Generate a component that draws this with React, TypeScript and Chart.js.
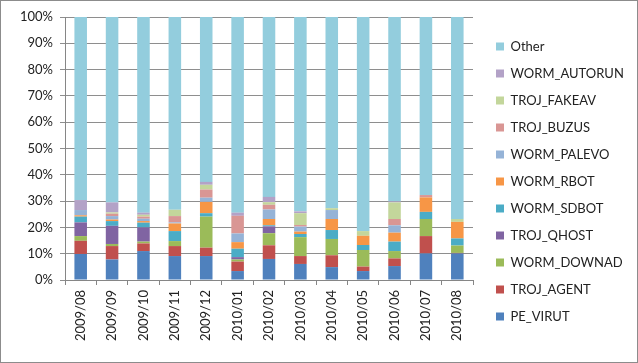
import React, { useEffect, useRef } from "react";
import { Chart, registerables } from "chart.js";

Chart.register(...registerables);

const categories = ["2009/08","2009/09","2009/10","2009/11","2009/12","2010/01","2010/02","2010/03","2010/04","2010/05","2010/06","2010/07","2010/08"];

const peVirut     = [9.9, 7.8, 11.0, 9.1, 9.1, 3.4, 8.0, 6.1, 4.9, 3.4, 5.3, 10.1, 10.1];
const trojAgent   = [5.0, 5.1, 2.9, 3.8, 3.2, 3.6, 5.2, 3.0, 4.5, 1.7, 2.9, 6.6, 0.2];
const wormDownad  = [1.8, 0.8, 0.7, 1.9, 11.8, 0.8, 4.6, 7.2, 6.2, 6.3, 2.8, 6.5, 2.8];
const trojQhost   = [5.2, 6.9, 5.4, 0.0, 0.0, 0.9, 2.6, 0.0, 0.0, 0.0, 0.0, 0.0, 0.0];
const wormSdbot   = [2.2, 1.8, 1.8, 3.8, 1.3, 3.2, 0.4, 1.2, 3.4, 1.9, 3.6, 2.7, 2.7];
const wormRbot    = [0.5, 0.6, 0.6, 2.9, 4.3, 2.5, 2.4, 0.9, 4.2, 3.5, 3.4, 5.5, 6.3];
const wormPalevo  = [2.0, 1.3, 0.9, 0.4, 1.6, 3.3, 3.6, 1.9, 3.4, 0.0, 2.8, 0.0, 0.0];
const trojBuzus   = [0.0, 0.9, 0.8, 2.4, 3.1, 6.7, 1.8, 0.6, 0.0, 0.0, 2.4, 0.9, 0.0];
const trojFakeav  = [0.0, 0.5, 0.7, 2.4, 1.8, 0.0, 1.0, 4.5, 0.7, 1.8, 6.3, 0.0, 1.1];
const wormAutorun = [3.8, 3.8, 0.8, 0.0, 1.1, 1.2, 2.0, 0.7, 0.0, 0.0, 0.4, 0.0, 0.0];
const other       = [69.6, 70.5, 74.4, 73.3, 62.7, 74.4, 68.4, 73.9, 72.7, 81.4, 70.1, 67.7, 76.8];

const yTicks = [0, 10, 20, 30, 40, 50, 60, 70, 80, 90, 100];

const seriesNames = ["PE_VIRUT","TROJ_AGENT","WORM_DOWNAD","TROJ_QHOST","WORM_SDBOT","WORM_RBOT","WORM_PALEVO","TROJ_BUZUS","TROJ_FAKEAV","WORM_AUTORUN","Other"];
const seriesData = [peVirut, trojAgent, wormDownad, trojQhost, wormSdbot, wormRbot, wormPalevo, trojBuzus, trojFakeav, wormAutorun, other];
const seriesColors = ["#4F81BD","#C0504D","#9BBB59","#8064A2","#4BACC6","#F79646","#95B3D7","#D99694","#C3D69B","#B3A2C7","#93CDDD"];

const LEGEND_WIDTH = 164;
const LEGEND_SHIFT = 9;

const legendFitPlugin = {
  id: "legendFit",
  beforeLayout(chart: any) {
    const lg = chart.legend;
    if (lg && !lg._fitPatched) {
      const orig = lg.fit;
      lg.fit = function () {
        orig.call(this);
        this.width = LEGEND_WIDTH;
      };
      lg._fitPatched = true;
    }
  },
  afterLayout(chart: any) {
    const lg = chart.legend;
    if (lg) {
      lg.left += LEGEND_SHIFT;
      lg.right += LEGEND_SHIFT;
    }
  },
};

export default function App() {
  const ref = useRef<HTMLCanvasElement | null>(null);
  useEffect(() => {
    document.body.style.margin = "0";
    const canvas = ref.current!;
    const font = "Lato, 'Open Sans', sans-serif";
    const chart = new Chart(canvas, {
      type: "bar",
      data: {
        labels: categories,
        datasets: seriesNames.map((name, i) => ({
          label: name,
          data: seriesData[i],
          backgroundColor: seriesColors[i],
          borderWidth: 0,
          categoryPercentage: 1,
          barPercentage: 0.4,
        })),
      },
      plugins: [legendFitPlugin],
      options: {
        animation: false,
        responsive: false,
        maintainAspectRatio: false,
        layout: { padding: { left: 0, right: 0, top: 16, bottom: 16 } },
        plugins: {
          legend: {
            position: "right",
            reverse: true,
            labels: {
              boxWidth: 8,
              boxHeight: 8,
              padding: 14,
              color: "#222",
              font: { family: font, size: 13 },
            },
          },
          tooltip: { enabled: false },
        },
        scales: {
          x: {
            stacked: true,
            grid: {
              offset: true,
              drawOnChartArea: false,
              drawTicks: true,
              tickLength: 5,
              color: "#868686",
            },
            border: { color: "#868686" },
            ticks: {
              minRotation: 90,
              maxRotation: 90,
              color: "#222",
              padding: 5,
              font: { family: font, size: 13 },
            },
            afterFit: (s: any) => { s.height = 66; },
          },
          y: {
            stacked: true,
            min: 0,
            max: 100,
            afterBuildTicks: (s: any) => { s.ticks = yTicks.map((v) => ({ value: v })); },
            grid: { color: "#8e8e8e", tickLength: 5 },
            border: { color: "#868686" },
            ticks: {
              color: "#222",
              padding: 7,
              font: { family: font, size: 13 },
              callback: (v: any) => v + "%",
            },
            afterFit: (s: any) => { s.width = 64; },
          },
        },
      },
    });
    return () => chart.destroy();
  }, []);
  return (
    <div style={{ width: 638, height: 363, boxSizing: "border-box", border: "1px solid #8c8c8c", background: "#fff" }}>
      <canvas ref={ref} width={636} height={361} style={{ display: "block" }} />
    </div>
  );
}
